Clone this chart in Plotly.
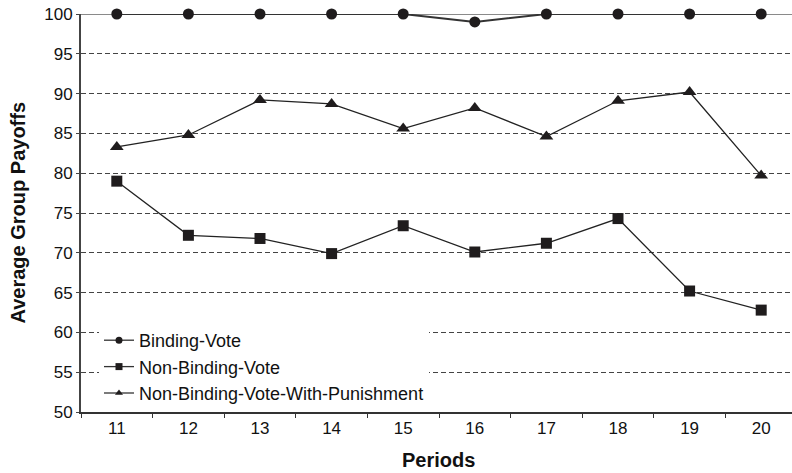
import plotly.graph_objects as go

periods = ["11", "12", "13", "14", "15", "16", "17", "18", "19", "20"]
binding_vote = [100, 100, 100, 100, 100, 99, 100, 100, 100, 100]
non_binding_vote = [79.0, 72.2, 71.8, 69.9, 73.4, 70.1, 71.2, 74.3, 65.2, 62.8]
non_binding_punish = [83.3, 84.8, 89.2, 88.7, 85.6, 88.2, 84.6, 89.1, 90.2, 79.7]
y_ticks = [50, 55, 60, 65, 70, 75, 80, 85, 90, 95, 100]
series_names = ["Binding-Vote", "Non-Binding-Vote", "Non-Binding-Vote-With-Punishment"]

font_family = "Liberation Sans, Arial, sans-serif"
mark_color = "#1f1c1d"
symbols = ["circle", "square", "triangle-up"]
sizes = [11, 11, 12]
line_styles = [dict(color="#333333", width=2), dict(color="#222222", width=1.3),
               dict(color="#222222", width=1.3)]
series_values = [binding_vote, non_binding_vote, non_binding_punish]

PL, PR, PT, PB = 81, 792, 14, 412  # plot box on screen
PW, PH = PR - PL, PB - PT
cat_px = 71.6  # pixel width per category (plot is cropped on the right, as in the reference)

fig = go.Figure()
for name, vals, sym, sz, ln in zip(series_names, series_values, symbols, sizes, line_styles):
    fig.add_trace(go.Scatter(
        x=periods, y=vals, name=name, mode="lines+markers",
        line=ln, marker=dict(symbol=sym, size=sz, color=mark_color),
        cliponaxis=False, showlegend=False,
    ))
# legend-only entries with small markers, as in the reference
for name, sym in zip(series_names, symbols):
    fig.add_trace(go.Scatter(
        x=[None], y=[None], name=name, mode="lines+markers",
        line=dict(color="#333333", width=1.3),
        marker=dict(symbol=sym, size=7, color=mark_color),
        showlegend=True,
    ))

# solid gray top border line at 100
fig.add_shape(type="line", xref="paper", yref="y", x0=0, x1=1, y0=100, y1=100,
              line=dict(color="#8a8a8a", width=2), layer="below")

fig.add_annotation(text="<b>Periods</b>", xref="paper", yref="paper",
                   x=(438 - PL) / PW, y=-(460 - PB) / PH,
                   xanchor="center", yanchor="middle", showarrow=False,
                   font=dict(size=20, family=font_family, color="#111111"))
fig.add_annotation(text="<b>Average Group Payoffs</b>", xref="paper", yref="paper",
                   x=(17.5 - PL) / PW, y=0.5, textangle=-90,
                   xanchor="center", yanchor="middle", showarrow=False,
                   font=dict(size=20, family=font_family, color="#111111"))

fig.update_layout(
    width=792, height=473,
    margin=dict(l=PL, r=792 - PR, t=PT, b=473 - PB),
    paper_bgcolor="white", plot_bgcolor="white",
    font=dict(family=font_family, color="#111111"),
    showlegend=True,
    legend=dict(
        x=(99 - PL) / PW, y=(PB - 322) / PH, xanchor="left", yanchor="top",
        bgcolor="white", borderwidth=0,
        font=dict(size=18, family=font_family, color="#111111"),
        tracegroupgap=0,
    ),
    xaxis=dict(
        type="category", range=[-0.5, -0.5 + PW / cat_px], automargin=False,
        tickson="boundaries", ticks="outside", ticklen=4, tickcolor="#333333",
        showline=True, linecolor="#333333", linewidth=1.5,
        showgrid=False, zeroline=False, ticklabeloverflow="allow",
        tickfont=dict(size=17, family=font_family, color="#111111"),
    ),
    yaxis=dict(
        range=[50, 100], tickvals=y_ticks, ticktext=[str(v) for v in y_ticks],
        automargin=False, ticklabeloverflow="allow",
        ticks="outside", ticklen=3, tickcolor="#444444",
        showline=True, linecolor="#444444", linewidth=2,
        showgrid=True, gridcolor="#444444", gridwidth=1, griddash="5px,3px",
        zeroline=False,
        tickfont=dict(size=17, family=font_family, color="#111111"),
    ),
)

fig.write_html("out.html",
               config={"displayModeBar": False},
               post_script="document.body.style.margin='0';document.body.style.padding='0';")
